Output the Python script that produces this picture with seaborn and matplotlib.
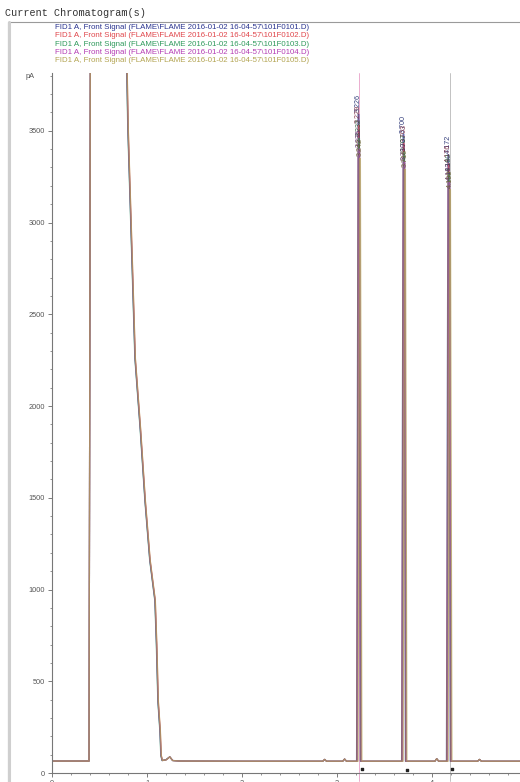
import pandas as pd
import seaborn as sns
import matplotlib.pyplot as plt
from matplotlib.patches import Rectangle
from matplotlib.ticker import MultipleLocator

# --------------------------- Data --------------------------- #
trace_names = [f"FID1 A, Front Signal (FLAME\\FLAME 2016-01-02 16-04-57\\101F010{i}.D)" for i in range(1, 6)]
trace_colors = ["#2b3590", "#e0474c", "#2f9a5c", "#b43cb4", "#b3a452"]
label_colors = ["#1f2a6e", "#7a2a40", "#2a5a3c", "#5a2a6a", "#6a6030"]

# shared baseline + solvent front (min, pA)
base_t = [0.00, 0.39, 0.405, 0.41, 0.78, 0.785, 0.80, 0.83, 0.874, 0.93, 0.98, 1.03,
          1.084, 1.10, 1.116, 1.137, 1.147, 1.16, 1.20, 1.24, 1.27, 1.35, 2.00,
          2.85, 2.87, 2.89, 3.06, 3.08, 3.10, 4.03, 4.05, 4.07, 4.48, 4.50, 4.52, 5.40]
base_y = [65, 65, 4300, 4600, 4600, 3900, 3500, 3000, 2260, 1870, 1480, 1160,
          940, 700, 390, 230, 95, 68, 72, 88, 68, 65, 64,
          64, 74, 64, 64, 76, 64, 64, 78, 64, 64, 74, 64, 64]

# small per-trace drift of the solvent tail (min)
tail_shift = [0.000, 0.003, -0.002, 0.001, 0.004]

# peak retention times / apex heights per trace
peak1_rt = [3.226, 3.229, 3.232, 3.235, 3.242]
peak1_h = [3590, 3530, 3460, 3400, 3350]
peak2_rt = [3.700, 3.703, 3.707, 3.710, 3.716]
peak2_h = [3480, 3430, 3380, 3330, 3290]
peak3_rt = [4.172, 4.176, 4.180, 4.183, 4.190]
peak3_h = [3370, 3320, 3270, 3220, 3180]
peak_half_width = 0.02

marker_rt = [3.235, 4.185]
marker_colors = ["#e8a0c8", "#b8b8b8"]
baseline_marks_t = [3.26, 3.74, 4.21]
baseline_marks_y = [22, 18, 20]

# ----------------------- Build long table --------------------------- #
rows = []
for k, name in enumerate(trace_names):
    pts = [(t + (tail_shift[k] if 0.78 <= t <= 1.2 else 0.0), y) for t, y in zip(base_t, base_y)]
    for rts, hs in ((peak1_rt, peak1_h), (peak2_rt, peak2_h), (peak3_rt, peak3_h)):
        rt, h = rts[k], hs[k]
        pts = [p for p in pts if not (rt - peak_half_width <= p[0] <= rt + peak_half_width)]
        pts += [(rt - peak_half_width, 64), (rt - 0.004, h), (rt, h), (rt + 0.004, h), (rt + peak_half_width, 64)]
    pts.sort()
    for t, y in pts:
        rows.append({"time": t, "signal": y, "trace": name})
df = pd.DataFrame(rows)

# ----------------------- Plot --------------------------- #
sns.set_style("ticks")
plt.rcParams["font.family"] = ["Liberation Sans", "DejaVu Sans"]

fig = plt.figure(figsize=(5.2, 7.82), dpi=100)
ax = fig.add_axes([52 / 520, 9 / 782, 494 / 520, 700 / 782])

sns.lineplot(data=df, x="time", y="signal", hue="trace", palette=dict(zip(trace_names, trace_colors)),
             sort=False, estimator=None, linewidth=0.9, alpha=0.7, legend=False, ax=ax)

for rt, c in zip(marker_rt, marker_colors):
    ax.plot([rt, rt], [-45, 3815], color=c, linewidth=0.6, clip_on=False, zorder=1)
ax.scatter(baseline_marks_t, baseline_marks_y, s=3, color="#222222", marker="s", zorder=3)

# rotated retention time labels above each apex
for rts, hs in ((peak1_rt, peak1_h), (peak2_rt, peak2_h), (peak3_rt, peak3_h)):
    for k in range(len(trace_names)):
        ax.text(rts[k], hs[k] + 10, f"{rts[k]:.3f}", rotation=90, ha="center", va="bottom",
                fontsize=5.2, color=label_colors[k], alpha=0.9, zorder=4)

ax.set_xlim(0, 5.2)
ax.set_ylim(0, 3815)
ax.xaxis.set_major_locator(MultipleLocator(1))
ax.xaxis.set_minor_locator(MultipleLocator(0.2))
ax.yaxis.set_major_locator(MultipleLocator(500))
ax.yaxis.set_minor_locator(MultipleLocator(100))
ax.tick_params(which="major", length=3, width=0.6, color="#666666", labelsize=5.3, labelcolor="#555555", pad=2)
ax.tick_params(which="minor", length=1.6, width=0.5, color="#666666")
ax.set_xlabel("")
ax.set_ylabel("")
for s in ("top", "right"):
    ax.spines[s].set_visible(False)
for s in ("left", "bottom"):
    ax.spines[s].set_color("#777777")
    ax.spines[s].set_linewidth(0.8)
ax.text(-0.035, 1.0, "pA", transform=ax.transAxes, ha="right", va="top", fontsize=5.3, color="#555555")

# ------------------- Window frame + header ------------------- #
fig.add_artist(Rectangle((8 / 520, -0.02), 1.2, (782 - 22) / 782 + 0.02, transform=fig.transFigure,
                         fill=False, edgecolor="#9a9a9a", linewidth=0.8))
fig.add_artist(plt.Line2D([8.5 / 520, 8.5 / 520], [0, (782 - 22) / 782], transform=fig.transFigure,
                          color="#cfcfcf", linewidth=2.2))
fig.text(5 / 520, 1 - 13 / 782, "Current Chromatogram(s)", family="Liberation Mono",
         fontsize=7.3, color="#333333", va="center", ha="left")

for i, (name, c) in enumerate(zip(trace_names, trace_colors)):
    fig.text(55 / 520, 1 - (27.7 + 8.2 * i) / 782, name, fontsize=5.65, color=c, va="center", ha="left")

plt.savefig("out.png", dpi=100)
plt.close()
